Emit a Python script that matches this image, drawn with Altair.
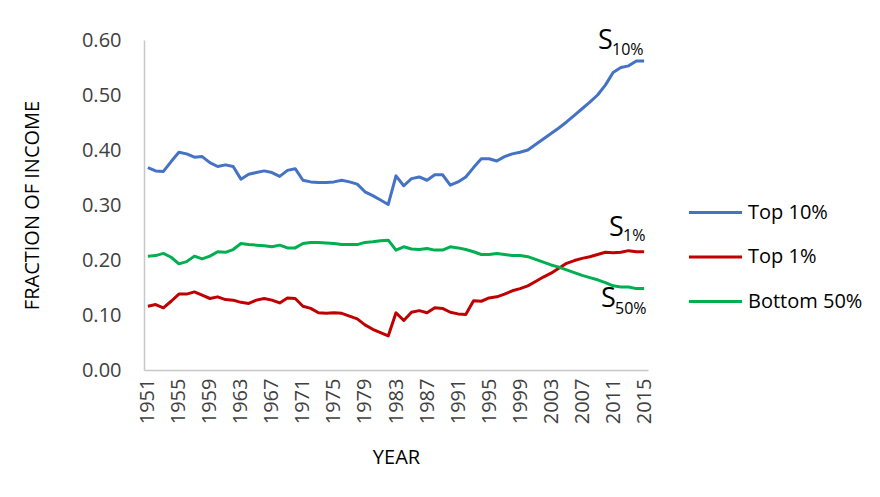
import altair as alt
import pandas as pd

years = list(range(1951, 2016))

top10 = [0.368, 0.362, 0.361, 0.379, 0.396, 0.393, 0.387, 0.388, 0.377, 0.370,
         0.373, 0.370, 0.347, 0.356, 0.359, 0.362, 0.359, 0.352, 0.363, 0.366,
         0.345, 0.342, 0.341, 0.341, 0.342, 0.345, 0.342, 0.338, 0.324, 0.317,
         0.309, 0.301, 0.353, 0.335, 0.348, 0.351, 0.345, 0.355, 0.355, 0.336,
         0.342, 0.351, 0.368, 0.384, 0.384, 0.380, 0.388, 0.393, 0.396, 0.400,
         0.410, 0.420, 0.430, 0.440, 0.451, 0.463, 0.475, 0.487, 0.500, 0.518,
         0.541, 0.550, 0.553, 0.562, 0.562]

top1 = [0.116, 0.119, 0.113, 0.125, 0.138, 0.138, 0.142, 0.136, 0.130, 0.133,
        0.128, 0.127, 0.123, 0.121, 0.127, 0.130, 0.127, 0.122, 0.131, 0.130,
        0.116, 0.112, 0.104, 0.103, 0.104, 0.103, 0.098, 0.093, 0.082, 0.074,
        0.068, 0.062, 0.104, 0.090, 0.105, 0.108, 0.104, 0.113, 0.112, 0.105,
        0.102, 0.101, 0.126, 0.125, 0.131, 0.133, 0.138, 0.144, 0.148, 0.153,
        0.161, 0.169, 0.176, 0.185, 0.194, 0.199, 0.203, 0.206, 0.210, 0.214,
        0.213, 0.214, 0.217, 0.215, 0.215]

bottom50 = [0.207, 0.208, 0.212, 0.205, 0.193, 0.197, 0.207, 0.202, 0.207, 0.215,
            0.214, 0.219, 0.230, 0.228, 0.227, 0.226, 0.224, 0.227, 0.222, 0.222,
            0.230, 0.232, 0.232, 0.231, 0.230, 0.228, 0.228, 0.228, 0.232, 0.233,
            0.235, 0.236, 0.218, 0.224, 0.220, 0.219, 0.221, 0.218, 0.218, 0.224,
            0.222, 0.219, 0.215, 0.210, 0.210, 0.212, 0.210, 0.208, 0.208, 0.206,
            0.201, 0.196, 0.191, 0.187, 0.182, 0.177, 0.172, 0.168, 0.164, 0.159,
            0.153, 0.151, 0.151, 0.148, 0.148]

series_names = ["Top 10%", "Top 1%", "Bottom 50%"]
series_colors = ["#4472C4", "#C00000", "#00B050"]
x_tick_years = list(range(1951, 2016, 4))
y_ticks = [0.0, 0.1, 0.2, 0.3, 0.4, 0.5, 0.6]
subscripts = ["10%", "1%", "50%"]

FONT = "Open Sans"

rows = []
for name, vals in zip(series_names, [top10, top1, bottom50]):
    for yr, v in zip(years, vals):
        rows.append({"year": yr, "share": v, "series": name})
df = pd.DataFrame(rows)

lines = alt.Chart(df).mark_line(strokeWidth=3, strokeJoin="round").encode(
    x=alt.X(
        "year:Q",
        scale=alt.Scale(domain=[1950.5, 2015.5], nice=False, zero=False),
        axis=alt.Axis(
            values=x_tick_years, format="d", labelAngle=270, labelAlign="right",
            labelBaseline="middle", labelPadding=8, ticks=False, tickSize=0,
            grid=False, domainColor="#C8C8C8", domainWidth=1.5,
            labelFont=FONT, labelFontSize=20, labelColor="#404040",
            labelOverlap=False, labelFlush=False,
            title="YEAR", titleFont=FONT, titleFontSize=20,
            titleFontWeight="normal", titleColor="#000000", titlePadding=24,
        ),
    ),
    y=alt.Y(
        "share:Q",
        scale=alt.Scale(domain=[0, 0.6], nice=False),
        axis=alt.Axis(
            values=y_ticks, format=".2f", ticks=False, tickSize=0,
            labelPadding=23, grid=False, domainColor="#C8C8C8", domainWidth=1.5,
            labelFont=FONT, labelFontSize=20, labelColor="#404040",
            labelFlush=False, labelOverlap=False,
            title="FRACTION OF INCOME", titleFont=FONT, titleFontSize=20,
            titleFontWeight="normal", titleColor="#000000", titlePadding=39,
        ),
    ),
    color=alt.Color(
        "series:N",
        scale=alt.Scale(domain=series_names, range=series_colors),
        legend=alt.Legend(
            title=None, orient="none", legendX=555, legendY=156,
            symbolType="M-1.77,0H1.77", symbolSize=900, symbolStrokeWidth=3,
            labelFont=FONT, labelFontSize=20, labelColor="#000000",
            labelOffset=16, rowPadding=17.5, padding=0, symbolOffset=0,
        ),
    ),
)

def txt(s, x, y, size):
    return alt.Chart(pd.DataFrame({"t": [s]})).mark_text(
        font=FONT, fontSize=size, align="left", baseline="alphabetic", color="#000000"
    ).encode(x=alt.value(x), y=alt.value(y), text="t:N")

annotations = [
    txt("S", 454, 9, 27), txt(subscripts[0], 468, 15, 16),
    txt("S", 465, 196, 27), txt(subscripts[1], 479, 201, 16),
    txt("S", 457, 267, 27), txt(subscripts[2], 471, 274, 16),
]

chart = alt.layer(lines, *annotations).properties(
    width=504, height=330,
    autosize=alt.AutoSizeParams(type="none"),
    padding={"left": 136, "top": 32, "right": 224, "bottom": 119},
    background="white",
).configure_view(stroke=None)

chart.save("out.html", embed_options={"renderer": "svg", "actions": False})
